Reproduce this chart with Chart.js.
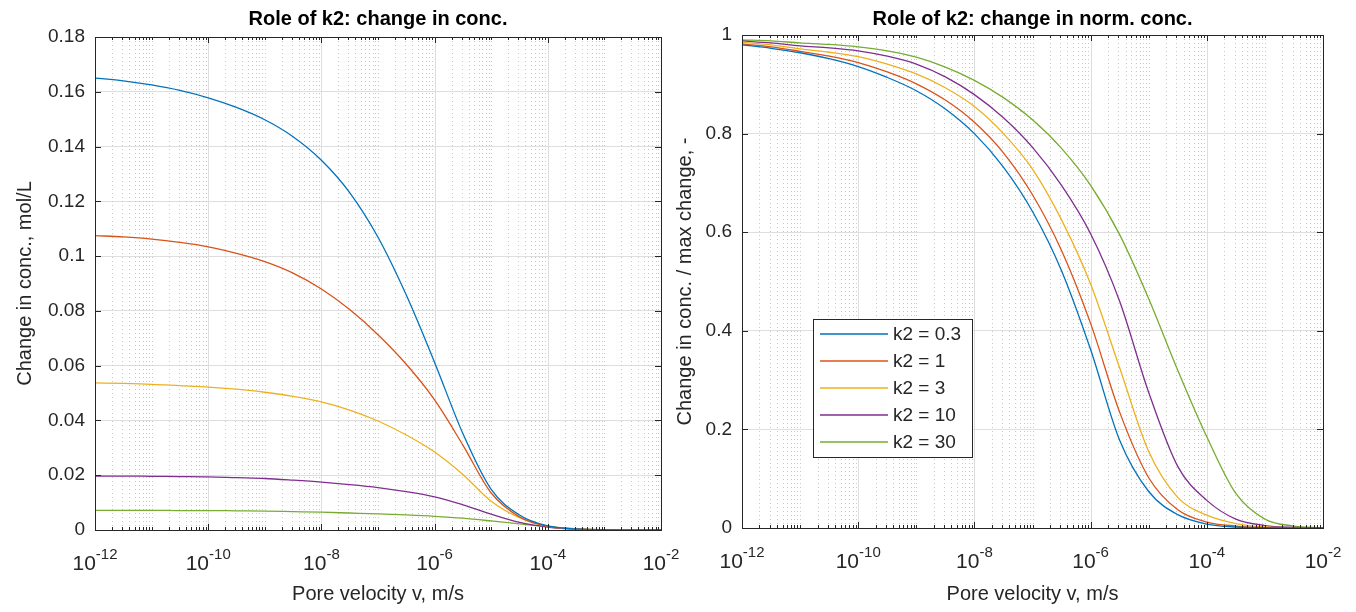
<!DOCTYPE html>
<html>
<head>
<meta charset="utf-8">
<title>Role of k2</title>
<script src="https://cdn.jsdelivr.net/npm/chart.js@4.4.1/dist/chart.umd.min.js"></script>
<style>
  html, body { margin: 0; padding: 0; background: #fff; }
  #wrap { position: relative; width: 1356px; height: 612px; overflow: hidden; }
  #leftChart { position: absolute; left: 0; top: 0; }
  #rightChart { position: absolute; left: 670px; top: 0; }
</style>
</head>
<body>
<div id="wrap">
  <canvas id="leftChart" width="700" height="612"></canvas>
  <canvas id="rightChart" width="686" height="612"></canvas>
</div>
<script>
// pore velocity (m/s), half-decade steps
const velocity = [1e-12, 3.16e-12, 1e-11, 3.16e-11, 1e-10, 3.16e-10, 1e-9, 3.16e-9, 1e-8, 3.16e-8,
    1e-7, 3.16e-7, 1e-6, 3.16e-6, 1e-5, 3.16e-5, 1e-4, 3.16e-4, 1e-3, 3.16e-3, 1e-2];
const k2Labels = ['k2 = 0.3', 'k2 = 1', 'k2 = 3', 'k2 = 10', 'k2 = 30'];
const k2Colors = ['#0072BD', '#D95319', '#EDB120', '#7E2F8E', '#77AC30'];

// change in conc., mol/L
const concK03 = [0.165, 0.164, 0.1625, 0.1605, 0.1578, 0.1543, 0.1498, 0.1436, 0.135, 0.1232,
    0.1069, 0.0858, 0.0612, 0.0352, 0.0148, 0.0055, 0.0015, 0.0004, 0.0001, 0, 0];
const concK1 = [0.1075, 0.107, 0.1062, 0.105, 0.1034, 0.101, 0.098, 0.0938, 0.088, 0.0805,
    0.0713, 0.0605, 0.0475, 0.031, 0.0135, 0.0048, 0.0013, 0.0004, 0.00008, 0.00001, 0];
const concK3 = [0.0537, 0.0535, 0.0532, 0.0527, 0.0522, 0.0514, 0.0503, 0.0488, 0.0468, 0.0438,
    0.0398, 0.0347, 0.0285, 0.0203, 0.0105, 0.0045, 0.0014, 0.0004, 0.0001, 0.00002, 0];
const concK10 = [0.0197, 0.0197, 0.0196, 0.0195, 0.0194, 0.0191, 0.0188, 0.0182, 0.0175, 0.0166,
    0.0155, 0.0140, 0.0121, 0.0092, 0.0058, 0.0028, 0.0011, 0.0003, 0.0001, 0.00002, 0];
const concK30 = [0.0072, 0.0072, 0.0072, 0.0071, 0.0071, 0.0070, 0.0069, 0.0067, 0.0065, 0.0062,
    0.0059, 0.0055, 0.0050, 0.0043, 0.0033, 0.0022, 0.0012, 0.0004, 0.0001, 0.00002, 0];

// change in conc. / max change, -
const normK03 = [0.980, 0.973, 0.964, 0.952, 0.936, 0.914, 0.887, 0.850, 0.800, 0.732,
    0.642, 0.522, 0.362, 0.178, 0.074, 0.027, 0.008, 0.002, 0.0005, 0.0001, 0];
const normK1 = [0.982, 0.976, 0.967, 0.957, 0.944, 0.925, 0.901, 0.868, 0.823, 0.761,
    0.676, 0.563, 0.415, 0.235, 0.102, 0.037, 0.012, 0.004, 0.0008, 0.0002, 0];
const normK3 = [0.985, 0.980, 0.972, 0.965, 0.956, 0.941, 0.921, 0.893, 0.855, 0.800,
    0.728, 0.625, 0.495, 0.325, 0.155, 0.062, 0.026, 0.009, 0.002, 0.0005, 0.0001];
const normK10 = [0.988, 0.984, 0.978, 0.974, 0.968, 0.957, 0.941, 0.915, 0.879, 0.832,
    0.772, 0.695, 0.597, 0.460, 0.275, 0.125, 0.056, 0.018, 0.005, 0.0012, 0.0002];
const normK30 = [0.990, 0.988, 0.984, 0.981, 0.976, 0.968, 0.955, 0.935, 0.908, 0.873,
    0.828, 0.770, 0.695, 0.595, 0.465, 0.320, 0.185, 0.070, 0.018, 0.004, 0.0006];

const xTickExponents = [-12, -10, -8, -6, -4, -2];

const FONT = '"Liberation Sans", Arial, Helvetica, sans-serif';
const TEXT = '#262626';

function makeDatasets(seriesList) {
    return seriesList.map((series, i) => ({
        label: k2Labels[i],
        data: velocity.map((v, j) => ({x: v, y: series[j]})),
        borderColor: k2Colors[i],
        backgroundColor: k2Colors[i],
        borderWidth: 1.3,
        pointRadius: 0,
        fill: false,
        cubicInterpolationMode: 'monotone'
    }));
}

// matlab-ish axes: dotted minor grid, box, inward ticks, 10^n labels, title, legend
const matlabAxes = {
    id: 'matlabAxes',
    beforeDatasetsDraw(chart, args, opts) {
        const {ctx, chartArea: a, scales: {x}} = chart;
        ctx.save();
        ctx.lineWidth = 1;
        for (let e = -12; e <= -3; e++) {
            for (let m = 1; m <= 9; m++) {
                if (e === -12 && m === 1) continue;
                const px = Math.round(x.getPixelForValue(m * Math.pow(10, e))) + 0.5;
                const major = m === 1 && e % 2 === 0;
                ctx.setLineDash(major ? [] : [1, 3]);
                ctx.strokeStyle = major ? '#dedede' : '#c8c8c8';
                ctx.beginPath();
                ctx.moveTo(px, a.top);
                ctx.lineTo(px, a.bottom);
                ctx.stroke();
            }
        }
        ctx.restore();
    },
    afterDraw(chart, args, opts) {
        const {ctx, chartArea: a, scales: {x, y}} = chart;
        ctx.save();
        ctx.strokeStyle = TEXT;
        ctx.lineWidth = 1;
        ctx.setLineDash([]);

        // y ticks, inward on both sides
        ctx.beginPath();
        y.ticks.forEach(t => {
            const py = Math.round(y.getPixelForValue(t.value)) + 0.5;
            ctx.moveTo(a.left, py); ctx.lineTo(a.left + 6, py);
            ctx.moveTo(a.right, py); ctx.lineTo(a.right - 6, py);
        });
        // x ticks, major and minor, inward top and bottom
        for (let e = -12; e <= -2; e++) {
            for (let m = 1; m <= 9; m++) {
                if (e === -2 && m > 1) break;
                const px = Math.round(x.getPixelForValue(m * Math.pow(10, e))) + 0.5;
                const len = (m === 1 && e % 2 === 0) ? 6 : 3;
                ctx.moveTo(px, a.bottom); ctx.lineTo(px, a.bottom - len);
                ctx.moveTo(px, a.top); ctx.lineTo(px, a.top + len);
            }
        }
        ctx.stroke();

        // box
        ctx.strokeRect(Math.round(a.left) + 0.5, Math.round(a.top) + 0.5,
            Math.round(a.right - a.left), Math.round(a.bottom - a.top));

        // x tick labels 10^n
        ctx.fillStyle = TEXT;
        ctx.textBaseline = 'alphabetic';
        ctx.textAlign = 'left';
        xTickExponents.forEach(e => {
            const px = x.getPixelForValue(Math.pow(10, e));
            ctx.font = '21px ' + FONT;
            const wBase = ctx.measureText('10').width;
            ctx.font = '15px ' + FONT;
            const wExp = ctx.measureText(String(e)).width;
            const start = px - (wBase + wExp) / 2;
            ctx.font = '21px ' + FONT;
            ctx.fillText('10', start, a.bottom + 40);
            ctx.font = '15px ' + FONT;
            ctx.fillText(String(e), start + wBase, a.bottom + 29);
        });

        // title
        ctx.font = 'bold 20px ' + FONT;
        ctx.textAlign = 'center';
        ctx.fillStyle = '#000';
        ctx.fillText(opts.title, (a.left + a.right) / 2, 25);

        // legend
        if (opts.legend) {
            const L = opts.legend;
            ctx.fillStyle = '#fff';
            ctx.fillRect(L.x, L.y, L.w, L.h);
            ctx.strokeStyle = TEXT;
            ctx.strokeRect(L.x + 0.5, L.y + 0.5, L.w, L.h);
            ctx.font = '19px ' + FONT;
            ctx.textAlign = 'left';
            ctx.textBaseline = 'middle';
            chart.data.datasets.forEach((ds, i) => {
                const ry = L.y + L.first + i * L.step;
                ctx.strokeStyle = ds.borderColor;
                ctx.lineWidth = 1.5;
                ctx.beginPath();
                ctx.moveTo(L.x + 7, ry);
                ctx.lineTo(L.x + 75, ry);
                ctx.stroke();
                ctx.fillStyle = TEXT;
                ctx.fillText(ds.label, L.x + 80, ry + 1);
            });
        }
        ctx.restore();
    }
};

function makeOptions(cfg) {
    return {
        responsive: false,
        animation: false,
        devicePixelRatio: 1,
        layout: {padding: {left: 0, right: cfg.padRight, top: cfg.padTop, bottom: 0}},
        plugins: {
            legend: {display: false},
            tooltip: {enabled: false},
            matlabAxes: {title: cfg.title, legend: cfg.legend}
        },
        scales: {
            x: {
                type: 'logarithmic',
                min: 1e-12,
                max: 1e-2,
                ticks: {display: false},
                grid: {display: false},
                border: {display: false},
                title: {
                    display: true,
                    text: 'Pore velocity v, m/s',
                    color: TEXT,
                    font: {family: FONT, size: 20},
                    padding: {top: 0, bottom: 6}
                },
                afterFit: s => { s.height = cfg.xHeight; }
            },
            y: {
                min: 0,
                max: cfg.yMax,
                ticks: {
                    stepSize: cfg.yStep,
                    color: TEXT,
                    font: {family: FONT, size: 19},
                    padding: 10,
                    callback: v => String(+v.toFixed(2))
                },
                grid: {color: '#dedede', drawTicks: false},
                border: {display: false},
                title: {
                    display: true,
                    text: cfg.yTitle,
                    color: TEXT,
                    font: {family: FONT, size: 20},
                    padding: {top: cfg.yTitlePad, bottom: 0}
                },
                afterFit: s => { s.width = cfg.yWidth; }
            }
        }
    };
}

new Chart(document.getElementById('leftChart'), {
    type: 'line',
    data: {datasets: makeDatasets([concK03, concK1, concK3, concK10, concK30])},
    options: makeOptions({
        title: 'Role of k2: change in conc.',
        yTitle: 'Change in conc., mol/L',
        yMax: 0.18, yStep: 0.02,
        padTop: 37, padRight: 39, xHeight: 82, yWidth: 95, yTitlePad: 13,
        legend: null
    }),
    plugins: [matlabAxes]
});

new Chart(document.getElementById('rightChart'), {
    type: 'line',
    data: {datasets: makeDatasets([normK03, normK1, normK3, normK10, normK30])},
    options: makeOptions({
        title: 'Role of k2: change in norm. conc.',
        yTitle: 'Change in conc. / max change, -',
        yMax: 1, yStep: 0.2,
        padTop: 35, padRight: 33, xHeight: 84, yWidth: 72, yTitlePad: 3,
        legend: {x: 143, y: 319, w: 159, h: 138, first: 15, step: 27}
    }),
    plugins: [matlabAxes]
});
</script>
</body>
</html>
